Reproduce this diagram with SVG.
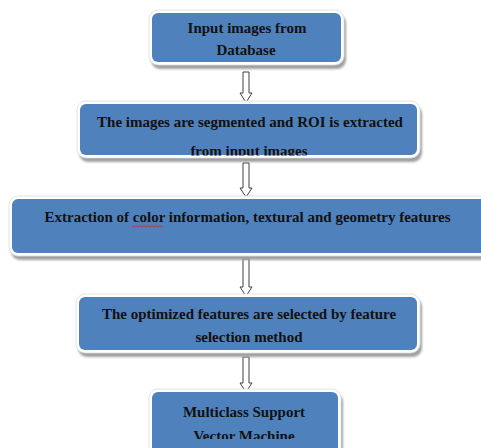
<svg xmlns="http://www.w3.org/2000/svg" width="481" height="448" viewBox="0 0 481 448">
<defs>
<style>
.sh{fill:#a0a0a0;filter:url(#blur)}
.wb{fill:#ffffff;stroke:#dcdcdc;stroke-width:0.8}
.bl{fill:#4f81bd}
.t{font-family:'Liberation Serif','DejaVu Serif',serif;font-weight:bold;font-size:15px;fill:#111111;text-anchor:middle}
.ar{fill:#ffffff;stroke:#404040;stroke-width:1}
</style>
<filter id="blur" x="-10%" y="-10%" width="120%" height="130%"><feGaussianBlur stdDeviation="1"/></filter>
<clipPath id="c2"><rect x="0" y="0" width="481" height="155.5"/></clipPath>
<clipPath id="c5"><rect x="0" y="0" width="481" height="439"/></clipPath>
</defs>
<rect width="481" height="448" fill="#ffffff"/>
<g id="connectors">
<path class="ar" d="M243,72 H249 V93 H252 L246,102.5 L240,93 H243 Z"/>
<path class="ar" d="M243,163 H249 V188 H252 L246,197 L240,188 H243 Z"/>
<path class="ar" d="M243,259 H249 V287 H252 L246,296 L240,287 H243 Z"/>
<path class="ar" d="M243,357 H249 V383 H252 L246,392 L240,383 H243 Z"/>
</g>
<g id="node1">
<rect class="sh" x="151" y="14" width="195" height="55" rx="9"/>
<rect class="wb" x="149" y="10" width="195" height="55" rx="9"/>
<rect class="bl" x="152" y="13" width="189" height="49" rx="6"/>
<text class="t" font-family="'Liberation Serif', serif" x="247" y="33">Input images from</text>
<text class="t" font-family="'Liberation Serif', serif" x="246" y="55">Database</text>
</g>
<g id="node2">
<rect class="sh" x="79" y="105" width="343" height="57" rx="9"/>
<rect class="wb" x="77" y="101" width="343" height="57" rx="9"/>
<rect class="bl" x="80" y="104" width="337" height="51" rx="6"/>
<text class="t" font-family="'Liberation Serif', serif" x="250" y="127">The images are segmented  and ROI is extracted</text>
<text class="t" font-family="'Liberation Serif', serif" x="249" y="156" clip-path="url(#c2)">from input images</text>
</g>
<g id="node3">
<rect class="sh" x="11" y="200" width="490" height="60" rx="9"/>
<rect class="wb" x="9" y="196" width="490" height="60" rx="9"/>
<rect class="bl" x="12" y="199" width="484" height="54" rx="6"/>
<text class="t" font-family="'Liberation Serif', serif" x="247.5" y="222">Extraction of color information, textural and geometry  features</text>
<polyline points="132,225.5 134,227 136,225.5 138,227 140,225.5 142,227 144,225.5 146,227 148,225.5 150,227 152,225.5 154,227 156,225.5 158,227 160,225.5 162,227 163,226" fill="none" stroke="#e02020" stroke-width="0.8"/>
</g>
<g id="node4">
<rect class="sh" x="78" y="298" width="344" height="59" rx="9"/>
<rect class="wb" x="76" y="294" width="344" height="59" rx="9"/>
<rect class="bl" x="79" y="297" width="338" height="53" rx="6"/>
<text class="t" font-family="'Liberation Serif', serif" x="249" y="319">The optimized features are selected by feature</text>
<text class="t" font-family="'Liberation Serif', serif" x="249" y="342">selection method</text>
</g>
<g id="node5">
<rect class="sh" x="151" y="393" width="192" height="70" rx="9"/>
<rect class="wb" x="149" y="389" width="192" height="70" rx="9"/>
<rect class="bl" x="152" y="392" width="186" height="64" rx="6"/>
<text class="t" font-family="'Liberation Serif', serif" x="244" y="417">Multiclass Support</text>
<text class="t" font-family="'Liberation Serif', serif" x="244" y="441" clip-path="url(#c5)">Vector Machine</text>
</g>
</svg>
